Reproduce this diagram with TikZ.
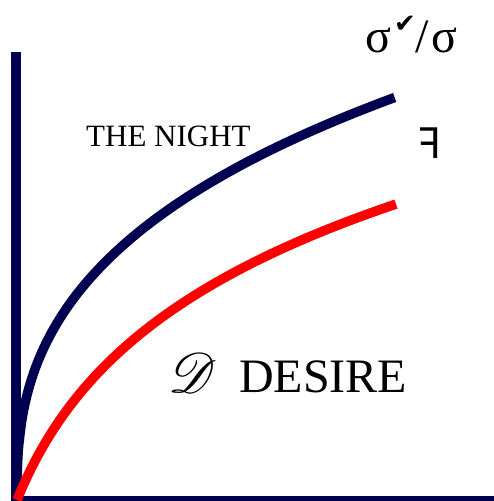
\documentclass[tikz,border=0pt]{standalone}
\usepackage{fontspec}
\usepackage{mathrsfs}
\setmainfont{Liberation Serif}
\newfontfamily\checkfont{DejaVu Sans}
\newfontfamily\revfont{Noto Sans}

\definecolor{nightblue}{RGB}{0,0,80}
\definecolor{desirered}{RGB}{255,0,0}

\tikzset{
  axisline/.style={draw=nightblue, line width=10pt},
  curveline/.style={line width=9.5pt, line cap=butt},
  plaintext/.style={inner sep=0pt, anchor=base west, text=black},
}

\begin{document}
\begin{tikzpicture}[x=1pt, y=-1pt]
  \useasboundingbox (0,0) rectangle (493,501);

  % Axes
  \coordinate (top)    at (16,52);
  \coordinate (origin) at (16,501);
  \coordinate (right)  at (505,501);
  \draw[axisline] (top) -- (origin) -- (right);

  % Curves (night above, desire below)
  \draw[curveline, nightblue] (17,495) -- plot[domain=0.001:1, samples=120]
        ({17+378*\x^2.5}, {495-430.5*\x+32.9*\x^2.5});
  \draw[curveline, desirered] plot[domain=0:379, samples=80]
        ({17+\x}, {500-148.7*ln(1+\x/60)});

  % Labels
  \node[plaintext] (script) at (168,392) {\scalebox{5.6}{$\mathscr{D}$}};
  \node[plaintext, font=\fontsize{31}{31}\selectfont] (night) at (86,146) {THE NIGHT};
  \node[plaintext, font=\fontsize{48}{48}\selectfont] (desire) at (239,392) {DESIRE};
  \node[plaintext, font=\fontsize{48}{48}\selectfont] (ratio) at (365,52)
        {σ\hspace{3pt}{\checkfont\fontsize{26}{26}\selectfont\raisebox{20pt}{✔}}/\hspace{2pt}σ};
  \node[plaintext, font=\revfont\fontsize{43}{43}\selectfont] (revf) at (419,158) {ꟻ};
\end{tikzpicture}
\end{document}
